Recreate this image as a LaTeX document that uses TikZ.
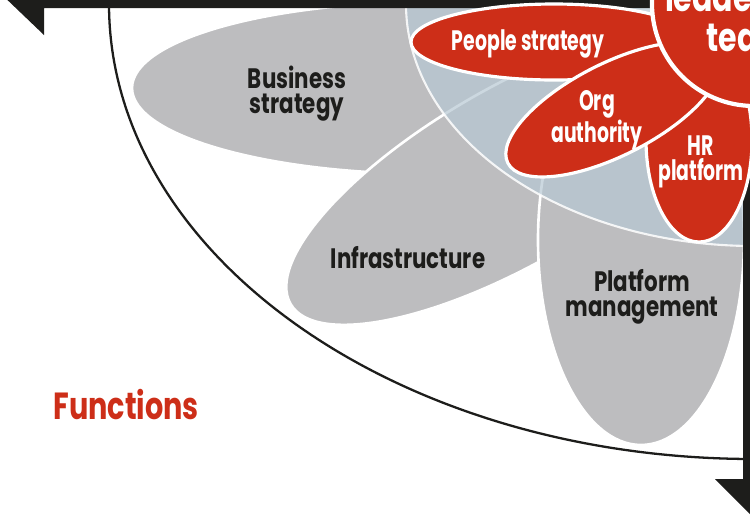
\documentclass[tikz,border=0pt]{standalone}
\usepackage{fontspec}
\setmainfont{Poppins}[FakeStretch=0.76]
\newfontfamily\narrowfont{Poppins}[FakeStretch=0.67]
\usepackage{xcolor}
\definecolor{petalred}{RGB}{205,46,24}
\definecolor{petalgrey}{RGB}{189,189,191}
\definecolor{coreblue}{RGB}{183,200,211}
\definecolor{inkblack}{RGB}{29,29,27}

\begin{document}
\begin{tikzpicture}[
    x=0.02cm, y=-0.02cm,
    outerpetal/.style={fill=petalgrey, draw=white, line width=1.5pt},
    innerpetal/.style={fill=petalred, draw=white, line width=1.8pt},
    core/.style={fill=coreblue, fill opacity=0.7, draw=white, draw opacity=0.85, line width=1.2pt},
    frame/.style={fill=inkblack, draw=none},
    darklabel/.style={font=\bfseries\fontsize{16}{14.2}\selectfont, text=inkblack, align=center, inner sep=0pt},
    lightlabel/.style={font=\narrowfont\bfseries\fontsize{16}{14.2}\selectfont, text=white, align=center, inner sep=0pt}
]
\useasboundingbox (0,0) rectangle (750,525);

\draw[inkblack, line width=1.3pt] (109,4) arc[start angle=180, end angle=90, x radius=645, y radius=455];

\path[outerpetal] (432,88) ellipse [x radius=300, y radius=86];
\path[outerpetal, shift={(514,175)}, rotate=30] (0,0) ellipse [x radius=258, y radius=88];
\path[outerpetal] (641,240) ellipse [x radius=103, y radius=205];

\path[core] (754,4) -- (406,4) arc[start angle=180, end angle=90, x radius=348, y radius=242] -- cycle;

\path[frame] (-3,-10) -- (44,35) -- (44,8) -- (760,8) -- (760,-10) -- cycle;
\path[frame] (743,-10) -- (743,479) -- (715,479) -- (760,524) -- (760,-10) -- cycle;

\path[innerpetal] (554,42) ellipse [x radius=143, y radius=38];
\path[innerpetal] (699,140) ellipse [x radius=53, y radius=102];
\path[innerpetal, shift={(613,109.5)}, rotate=27] (0,0) ellipse [x radius=118, y radius=46];
\path[innerpetal, line width=2.4pt] (754,4) circle [radius=102];

\node[darklabel] (business) at (297,94) {Business\\strategy};
\node[darklabel] (infra) at (408,258) {Infrastructure};
\node[darklabel] (platform) at (642,297) {Platform\\management};
\node[lightlabel] (people) at (528,44) {People strategy};
\node[lightlabel] (org) at (597,120) {Org\\authority};
\node[lightlabel] (hr) at (701,162) {HR\\platform};
\node[lightlabel, font=\bfseries\fontsize{22.5}{17}\selectfont] (leader) at (748,16) {leadership\\team};
\node[font=\bfseries\fontsize{21.5}{24}\selectfont, text=petalred, anchor=west, inner sep=0pt] (functions) at (53,405) {Functions};
\end{tikzpicture}
\end{document}
